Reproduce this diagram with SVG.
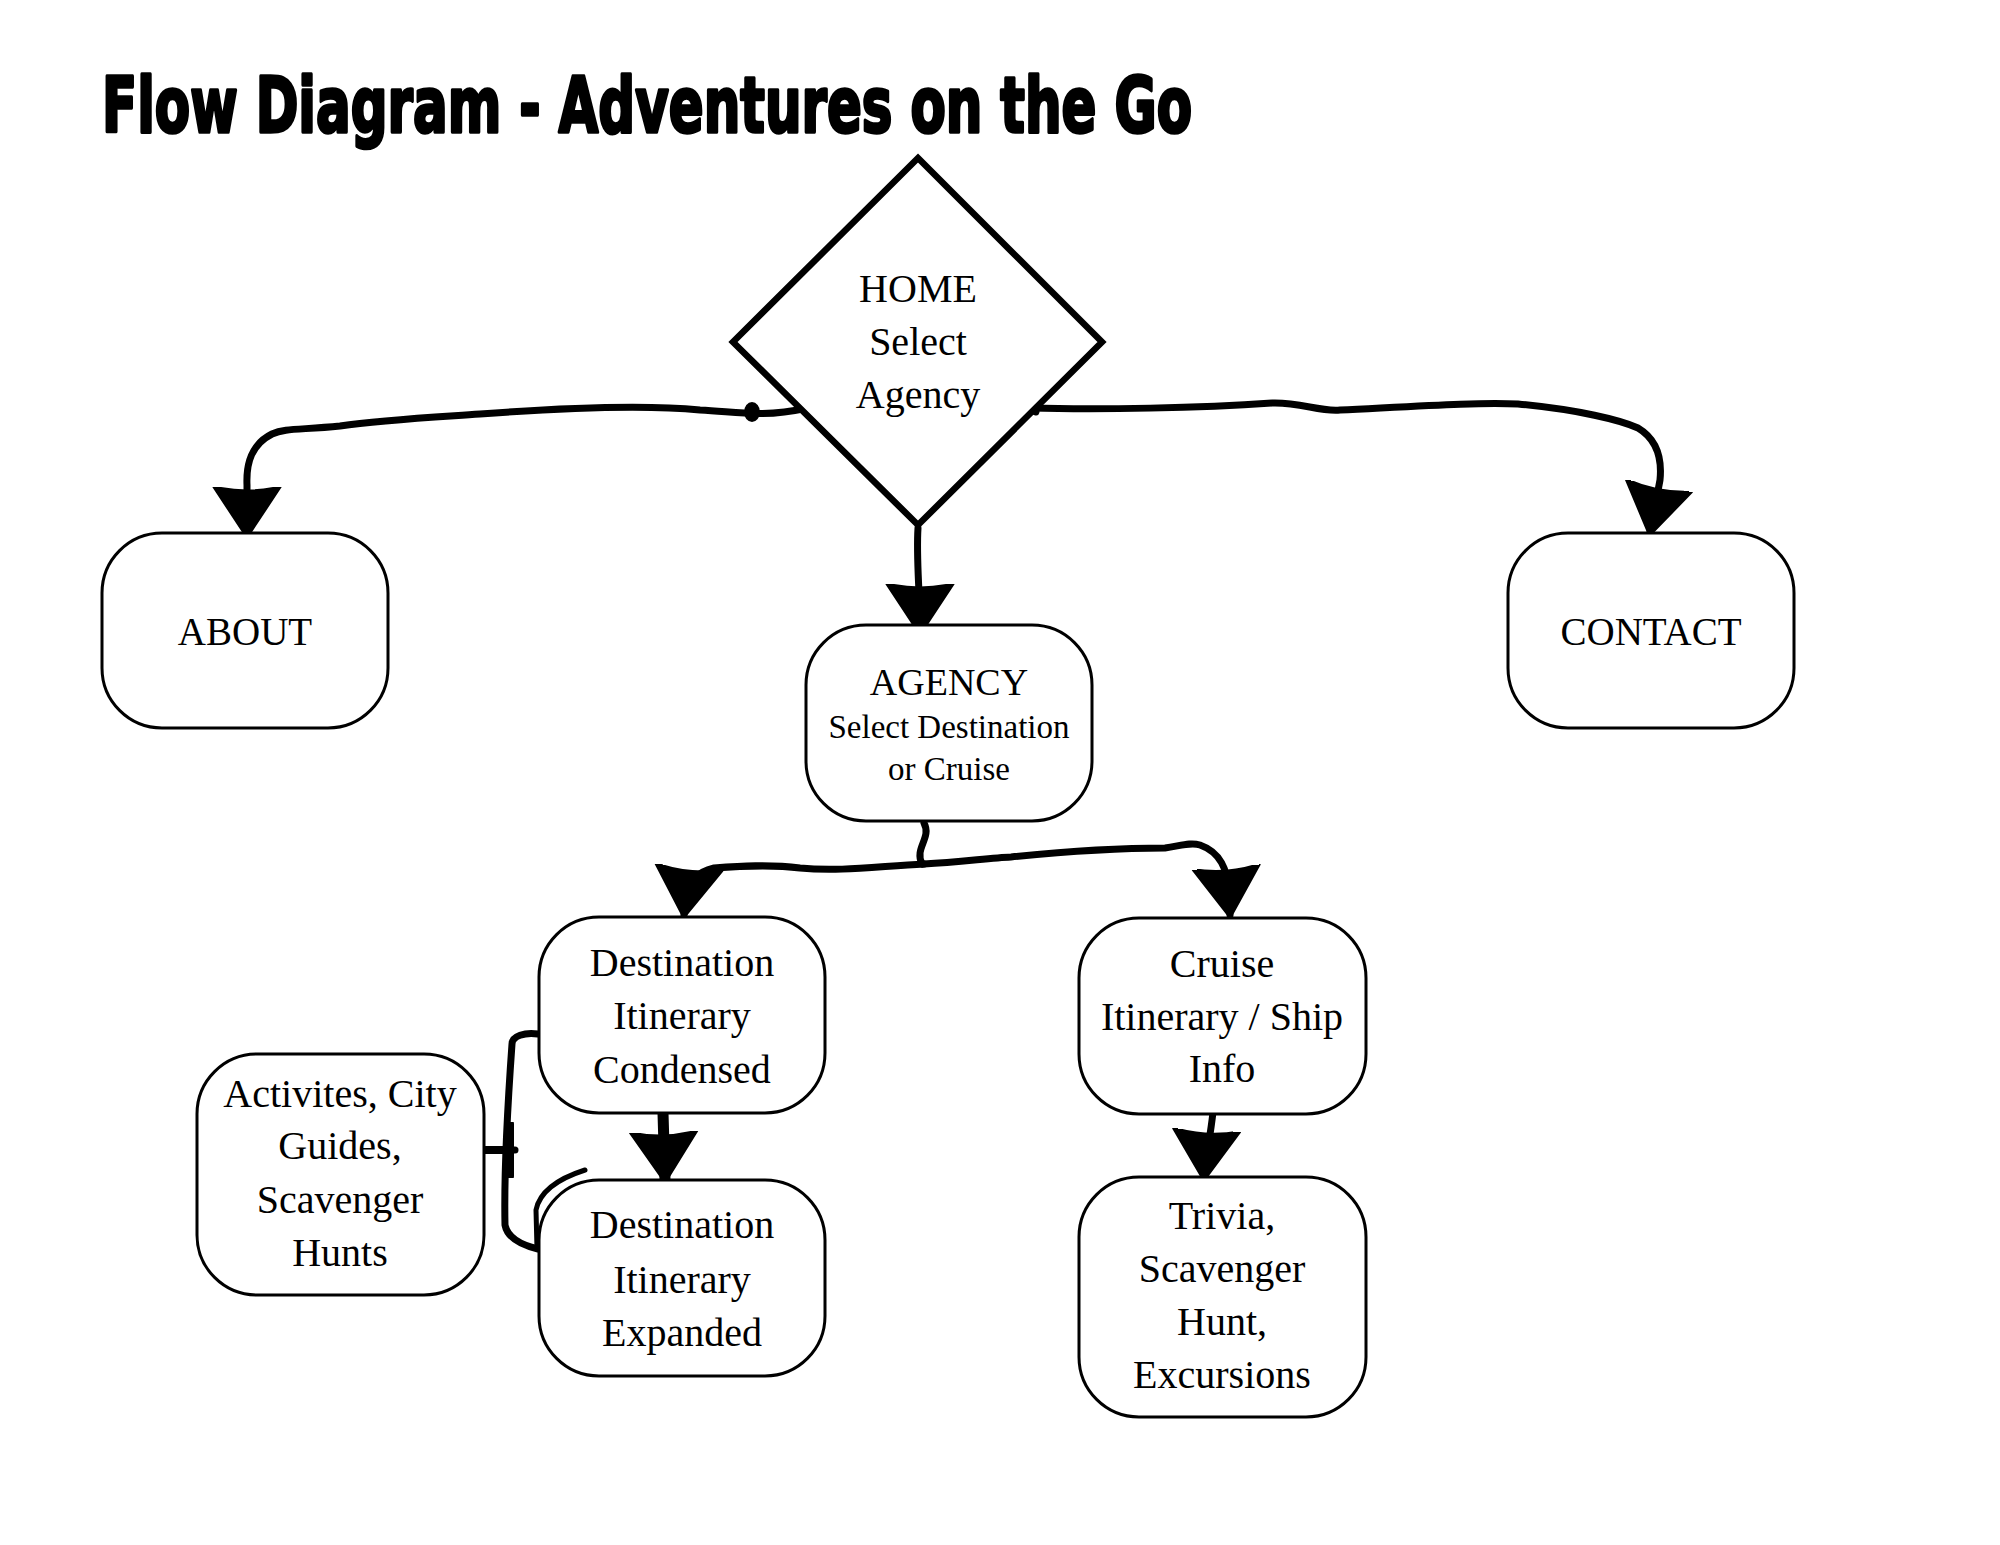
<svg xmlns="http://www.w3.org/2000/svg" width="2000" height="1545" viewBox="0 0 2000 1545">
<style>
.box{fill:#fff;stroke:#000;stroke-width:3}
.dia{fill:#fff;stroke:#000;stroke-width:6.5;stroke-linejoin:miter}
.t{font-family:"Liberation Serif","Times New Roman",serif;font-size:40px;fill:#000;text-anchor:middle}
.s{font-size:33px}
.c{fill:none;stroke:#000;stroke-width:7;stroke-linecap:round;stroke-linejoin:round}
.title{font-family:"DejaVu Sans","Liberation Sans",sans-serif;font-weight:bold;font-size:77px;fill:#000;stroke:#000;stroke-width:3.5;stroke-linejoin:round}
</style>
<defs>
<marker id="ah" markerUnits="userSpaceOnUse" viewBox="0 0 50 70" markerWidth="50" markerHeight="70" refX="48" refY="35" orient="auto">
<path d="M0,2 Q8,35 0,68 L50,35 Z" fill="#000" stroke="#000" stroke-width="3" stroke-linejoin="round"/>
</marker>
<marker id="ahs" markerUnits="userSpaceOnUse" viewBox="0 0 30 56" markerWidth="30" markerHeight="56" refX="28" refY="28" orient="auto">
<path d="M4,2 L4,54 M4,28 L28,28" fill="none" stroke="#000" stroke-width="8" stroke-linecap="round"/>
</marker>
</defs>
<rect width="2000" height="1545" fill="#fff"/>
<text class="title" x="102" y="132" textLength="1090" lengthAdjust="spacingAndGlyphs">Flow Diagram - Adventures on the Go</text>

<g id="connectors">
<path class="c" d="M808,408 C760,418 740,412 700,410 C640,404 560,408 480,414 C420,418 380,420 340,426 C300,430 285,428 272,434 C252,444 246,462 247,485 L247,535" marker-end="url(#ah)"/>
<ellipse cx="752" cy="412" rx="8" ry="10" fill="#000"/>
<path class="c" d="M1030,408 C1100,410 1200,408 1272,403 C1300,402 1320,412 1340,410 C1420,406 1480,402 1518,404 C1580,410 1620,420 1638,428 C1658,440 1662,460 1660,480 L1650,533" marker-end="url(#ah)"/>
<path class="c" d="M1033,395 C1026,400 1028,410 1036,412"/>
<path class="c" d="M918,528 C916,560 920,590 920,632" marker-end="url(#ah)"/>
<path class="c" d="M924,823 C932,838 914,848 922,864"/>
<path class="c" d="M924,864 C880,866 840,872 800,868 C770,864 740,866 714,868 C696,872 688,884 686,896 L684,915" marker-end="url(#ah)"/>
<path class="c" d="M924,864 C960,862 990,858 1011,857 C1080,850 1140,848 1165,848 C1180,846 1190,842 1200,845 C1220,852 1228,870 1228,890 L1230,915" marker-end="url(#ah)"/>
<path class="c" style="stroke-width:11" d="M663,1113 L665,1180" marker-end="url(#ah)"/>
<path class="c" d="M1213,1112 C1210,1140 1205,1160 1204,1178" marker-end="url(#ah)"/>
<path class="c" d="M538,1034 C525,1032 512,1036 512,1044 C508,1100 504,1180 505,1225 C508,1240 525,1246 538,1249"/>
<path class="c" style="stroke-width:5" d="M585,1170 C560,1178 540,1190 536,1210 L537,1249"/>
<path class="c" d="M515,1150 L486,1150" marker-end="url(#ahs)"/>
</g>

<g id="home">
<polygon class="dia" points="918,158 1102,342 918,525 733,342"/>
<text class="t" x="918" y="302">HOME</text>
<text class="t" x="918" y="355">Select</text>
<text class="t" x="918" y="408">Agency</text>
</g>
<g id="about">
<rect class="box" x="102" y="533" width="286" height="195" rx="60"/>
<text class="t" x="245" y="645" style="font-size:39px">ABOUT</text>
</g>
<g id="contact">
<rect class="box" x="1508" y="533" width="286" height="195" rx="60"/>
<text class="t" x="1651" y="645" style="font-size:39px">CONTACT</text>
</g>
<g id="agency">
<rect class="box" x="806" y="625" width="286" height="196" rx="60"/>
<text class="t" x="949" y="695" style="font-size:38px">AGENCY</text>
<text class="t s" x="949" y="738">Select Destination</text>
<text class="t s" x="949" y="780">or Cruise</text>
</g>
<g id="dest-condensed">
<rect class="box" x="539" y="917" width="286" height="196" rx="60"/>
<text class="t" x="682" y="976">Destination</text>
<text class="t" x="682" y="1029">Itinerary</text>
<text class="t" x="682" y="1083">Condensed</text>
</g>
<g id="dest-expanded">
<rect class="box" x="539" y="1180" width="286" height="196" rx="60"/>
<text class="t" x="682" y="1238">Destination</text>
<text class="t" x="682" y="1293">Itinerary</text>
<text class="t" x="682" y="1346">Expanded</text>
</g>
<g id="activities">
<rect class="box" x="197" y="1054" width="287" height="241" rx="60"/>
<text class="t" x="340" y="1107">Activites, City</text>
<text class="t" x="340" y="1159">Guides,</text>
<text class="t" x="340" y="1213">Scavenger</text>
<text class="t" x="340" y="1266">Hunts</text>
</g>
<g id="cruise">
<rect class="box" x="1079" y="918" width="287" height="196" rx="60"/>
<text class="t" x="1222" y="977">Cruise</text>
<text class="t" x="1222" y="1030">Itinerary / Ship</text>
<text class="t" x="1222" y="1082">Info</text>
</g>
<g id="trivia">
<rect class="box" x="1079" y="1177" width="287" height="240" rx="60"/>
<text class="t" x="1222" y="1229">Trivia,</text>
<text class="t" x="1222" y="1282">Scavenger</text>
<text class="t" x="1222" y="1335">Hunt,</text>
<text class="t" x="1222" y="1388">Excursions</text>
</g>
</svg>
